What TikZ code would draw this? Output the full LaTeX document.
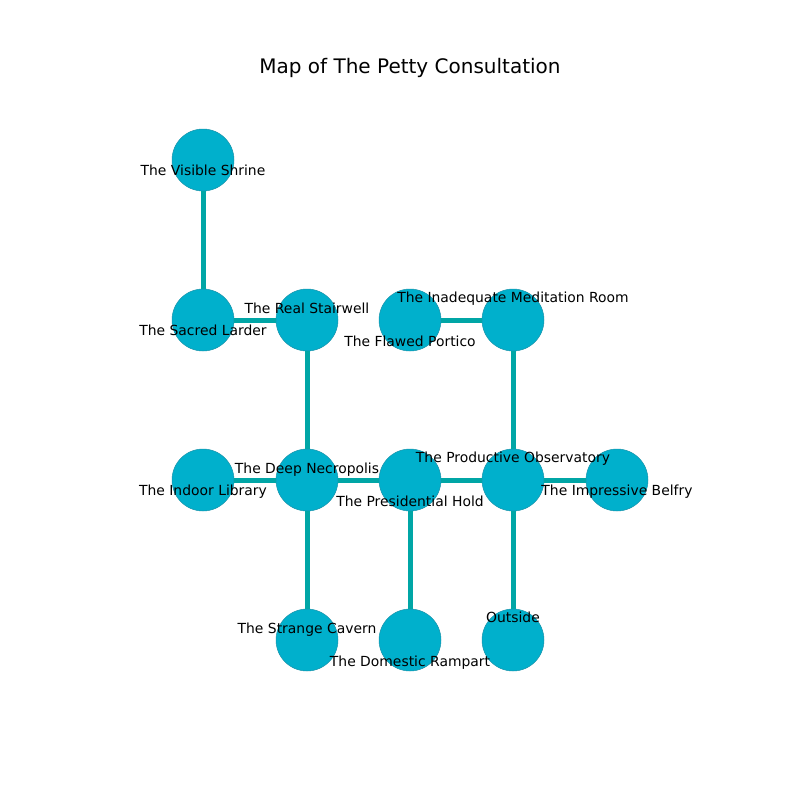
\documentclass[tikz,border=0pt]{standalone}
\usepackage{fontspec}
\setmainfont{DejaVu Sans}
\definecolor{nodefill}{HTML}{00B0CC}
\definecolor{nodeedge}{HTML}{1A93AA}
\definecolor{edgecol}{HTML}{00A6A6}
\begin{document}
\begin{tikzpicture}[x=1pt,y=-1pt,
  room/.style={circle,fill=nodefill,draw=nodeedge,line width=0.5pt,minimum size=62pt,inner sep=0pt},
  lab/.style={font=\fontsize{13.9}{16}\selectfont,inner sep=0pt,text height=10pt,text depth=0pt},
  link/.style={draw=edgecol,line width=5pt}]
\useasboundingbox (0,0) rectangle (800,800);
\node[font=\fontsize{20}{24}\selectfont,inner sep=0pt,text height=14pt,text depth=0pt] (title) at (410,67) {Map of The Petty Consultation};
% rooms
\node[room] (vs) at (203,160) {};
\node[room] (sl) at (203,320) {};
\node[room] (rs) at (307,320) {};
\node[room] (fp) at (410,320) {};
\node[room] (im) at (513,320) {};
\node[room] (il) at (203,480) {};
\node[room] (dn) at (307,480) {};
\node[room] (ph) at (410,480) {};
\node[room] (po) at (513,480) {};
\node[room] (ib) at (617,480) {};
\node[room] (sc) at (307,640) {};
\node[room] (dr) at (410,640) {};
\node[room] (out) at (513,640) {};
% connectors
\draw[link] (vs) -- (sl);
\draw[link] (sl) -- (rs);
\draw[link] (rs) -- (dn);
\draw[link] (fp) -- (im);
\draw[link] (im) -- (po);
\draw[link] (il) -- (dn);
\draw[link] (dn) -- (ph);
\draw[link] (ph) -- (po);
\draw[link] (po) -- (ib);
\draw[link] (dn) -- (sc);
\draw[link] (ph) -- (dr);
\draw[link] (po) -- (out);
% labels
\node[lab] (lvs) at (203,170) {The Visible Shrine};
\node[lab] (lsl) at (203,330) {The Sacred Larder};
\node[lab] (lrs) at (307,308) {The Real Stairwell};
\node[lab] (lfp) at (410,341) {The Flawed Portico};
\node[lab] (lim) at (513,297) {The Inadequate Meditation Room};
\node[lab] (lil) at (203,490) {The Indoor Library};
\node[lab] (ldn) at (307,468) {The Deep Necropolis};
\node[lab] (lph) at (410,501) {The Presidential Hold};
\node[lab] (lpo) at (513,457) {The Productive Observatory};
\node[lab] (lib) at (617,490) {The Impressive Belfry};
\node[lab] (lsc) at (307,628) {The Strange Cavern};
\node[lab] (ldr) at (410,661) {The Domestic Rampart};
\node[lab] (lout) at (513,617) {Outside};
\end{tikzpicture}
\end{document}
